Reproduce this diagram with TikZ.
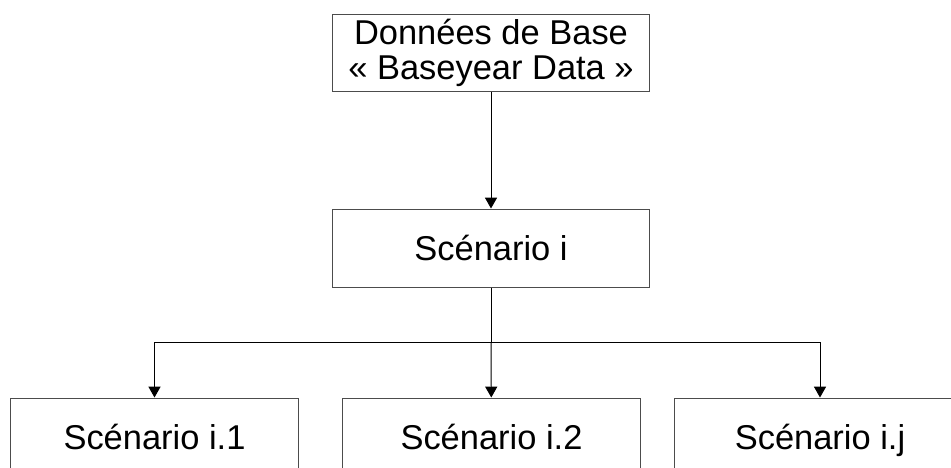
\documentclass[tikz,border=0pt]{standalone}
\usepackage{fontspec}
\setmainfont{Liberation Sans}
\usepackage{tikz}
\usetikzlibrary{arrows.meta}

\begin{document}
\begin{tikzpicture}[x=0.025cm, y=-0.025cm,
    box/.style={draw=black!70, line width=0.7pt, inner sep=0pt, align=center,
      minimum height=1.95cm, font=\fontsize{24.5}{25}\selectfont},
    onebox/.style={box, text height=17.6pt, text depth=0pt},
    link/.style={draw=black, line width=0.7pt, -{Triangle[width=0.3cm, length=0.27cm]}}]
      \useasboundingbox (0,0) rectangle (951,467);
      \clip (0,0) rectangle (951,467);
      % boxes
      \node[box, minimum width=7.9cm, minimum height=1.9cm] (base) at (491,53) {Données de Base\\« Baseyear Data »};
      \node[onebox, minimum width=7.9cm] (scen) at (491,248) {Scénario i};
      \node[onebox, minimum width=7.175cm] (s1) at (154.5,437) {Scénario i.1};
      \node[onebox, minimum width=7.425cm] (s2) at (491.5,437) {Scénario i.2};
      \node[onebox, minimum width=7.25cm] (sj) at (820,437) {Scénario i.j};
      \coordinate (split) at (491,342);
      % connectors
      \draw[link] (base) -- (scen);
      \draw[line width=0.7pt] (scen) -- (split);
      \draw[link] (split) -| (s1);
      \draw[link] (split) -- (s2);
      \draw[link] (split) -| (sj);
    \end{tikzpicture}
\end{document}
